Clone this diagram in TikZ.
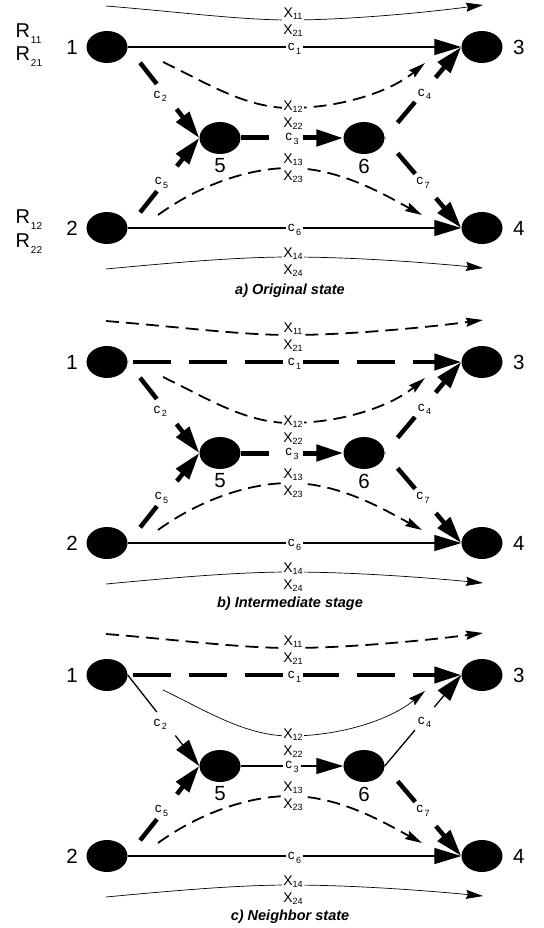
\documentclass[tikz,border=0pt]{standalone}
\usepackage{fontspec}
\setmainfont{Liberation Sans}
\usetikzlibrary{arrows.meta,shapes.geometric}

% label helpers: X_{ij}, c_{k}, R_{ij}
\newcommand\xlab[1]{{\fontsize{14}{16.5}\selectfont X\raisebox{-2pt}{\fontsize{9}{10}\selectfont #1}}}
\newcommand\clab[1]{{\fontsize{13.5}{15}\selectfont c\hspace{1.5pt}\raisebox{-3.5pt}{\fontsize{9}{10}\selectfont #1}}}
\newcommand\rlab[1]{{\fontsize{20}{22}\selectfont R\hspace{1pt}\raisebox{-6pt}{\fontsize{10}{11}\selectfont #1}}}

\tikzset{
  vtx/.style={ellipse, fill=black, minimum width=41pt, minimum height=32pt, inner sep=0pt},
  num/.style={font=\fontsize{20.5}{22}\selectfont, inner sep=0pt},
  xtag/.style={fill=white, align=center, inner sep=1pt, font=\fontsize{14}{16.5}\selectfont},
  ctag/.style={fill=white, inner sep=2pt},
  cfree/.style={inner sep=0pt},
  caption/.style={font=\fontsize{14.5}{16}\selectfont\bfseries\itshape},
  bigtip/.style={-{Triangle[length=27pt,width=16pt]}},
  smalltip/.style={-{Stealth[length=17pt,width=9pt,inset=2pt]}},
  % connector looks
  cthin/.style={bigtip, line width=1.3pt},
  cthindiag/.style={bigtip, line width=1.3pt, dash pattern=on 47pt off 30pt on 200pt},
  cthick/.style={bigtip, line width=4.5pt, dash pattern=on 27pt off 32pt on 100pt off 20pt, dash phase=159pt},
  cbar/.style={bigtip, line width=5pt, dash pattern=on 28pt off 34pt on 200pt},
  clong/.style={bigtip, line width=4.5pt, dash pattern=on 38pt off 18pt, dash phase=51pt},
  xthin/.style={smalltip, line width=0.7pt},
  xdash/.style={smalltip, line width=1.8pt, dash pattern=on 13pt off 7pt},
}

% one network; #1 name prefix, #2 caption text, #3 caption height
\newcommand\drawpanel[3]{%
  \node[vtx] (#1-1) at (107,47) {};
  \node[vtx] (#1-2) at (107,228) {};
  \node[vtx] (#1-3) at (482,47) {};
  \node[vtx] (#1-4) at (482,228) {};
  \node[vtx] (#1-5) at (220,138) {};
  \node[vtx] (#1-6) at (364,138) {};
  \node[num, anchor=east] (#1-n1) at (78,47) {1};
  \node[num, anchor=east] (#1-n2) at (78,228) {2};
  \node[num, anchor=west] (#1-n3) at (513,47) {3};
  \node[num, anchor=west] (#1-n4) at (513,228) {4};
  \node[num] (#1-n5) at (220,166) {5};
  \node[num] (#1-n6) at (364,166) {6};
  % direct links
  \draw[cone] (#1-1.east) -- node[ctag, pos=0.5, yshift=-2pt] (#1-c1) {\clab{1}} (#1-3.west);
  \draw[csix] (#1-2.east) -- node[ctag, pos=0.5, yshift=-2pt] (#1-c6) {\clab{6}} (#1-4.west);
  % links through the hub pair 5 -> 6
  \draw[ctwo] (#1-1.east) -- node[cfree, pos=0.54, xshift=-6pt] (#1-c2) {\clab{2}} (#1-5.west);
  \draw[cfive] (#1-2.east) -- node[cfree, pos=0.5, xshift=-2pt] (#1-c5) {\clab{5}} (#1-5.west);
  \draw[cthree] (#1-5.east) -- node[ctag, pos=0.5, yshift=-1pt] (#1-c3) {\clab{3}} (#1-6.west);
  \draw[cfour] (#1-6.east) -- node[cfree, pos=0.48, xshift=3pt] (#1-c4) {\clab{4}} (#1-3.west);
  \draw[cseven] (#1-6.east) -- node[cfree, pos=0.5, xshift=0pt] (#1-c7) {\clab{7}} (#1-4.west);
  % demand flows
  \coordinate (#1-x1s) at (106,6);   \coordinate (#1-x1m) at (290,20);  \coordinate (#1-x1e) at (483,5);
  \coordinate (#1-x2s) at (163,62);  \coordinate (#1-x2m) at (290,108); \coordinate (#1-x2e) at (425,63);
  \coordinate (#1-x3s) at (158,215); \coordinate (#1-x3m) at (290,168); \coordinate (#1-x3e) at (422,215);
  \coordinate (#1-x4s) at (106,269); \coordinate (#1-x4m) at (290,257); \coordinate (#1-x4e) at (483,268);
  \draw[xone] (#1-x1s) .. controls (180,12) and (240,20) .. (#1-x1m) .. controls (350,20) and (430,12) .. (#1-x1e);
  \draw[xtwo] (#1-x2s) .. controls (205,82) and (245,108) .. (#1-x2m) .. controls (340,108) and (390,92) .. (#1-x2e);
  \draw[xthree] (#1-x3s) .. controls (195,188) and (245,168) .. (#1-x3m) .. controls (340,168) and (385,195) .. (#1-x3e);
  \draw[xfour] (#1-x4s) .. controls (180,262) and (240,257) .. (#1-x4m) .. controls (350,257) and (420,262) .. (#1-x4e);
  \node[xtag] (#1-x1t) at (293,22) {\xlab{11}\\\xlab{21}};
  \node[xtag] (#1-x2t) at (293,115) {\xlab{12}\\\xlab{22}};
  \node[xtag] (#1-x3t) at (293,168) {\xlab{13}\\\xlab{23}};
  \node[xtag] (#1-x4t) at (293,262) {\xlab{14}\\\xlab{24}};
  \node[caption] (#1-cap) at (290,#3) {#2};
}

\begin{document}
\begin{tikzpicture}[x=1pt, y=-1pt]
  \useasboundingbox (0,0) rectangle (543,928);

  \begin{scope}[
      xone/.style=xthin, xtwo/.style=xdash, xthree/.style=xdash, xfour/.style=xthin,
      cone/.style=cthin, ctwo/.style=cthick, cthree/.style=cbar, cfour/.style=cthick,
      cfive/.style=cthick, csix/.style=cthin, cseven/.style=cthick]
    \drawpanel{a}{a) Original state}{291}
    \node[anchor=base west] (ra11) at (12,38) {\rlab{11}};
    \node[anchor=base west] (ra21) at (12,61) {\rlab{21}};
    \node[anchor=base west] (ra12) at (12,223) {\rlab{12}};
    \node[anchor=base west] (ra22) at (12,247) {\rlab{22}};
  \end{scope}

  \begin{scope}[shift={(0,315)},
      xone/.style=xdash, xtwo/.style=xdash, xthree/.style=xdash, xfour/.style=xthin,
      cone/.style=clong, ctwo/.style=cthick, cthree/.style=cbar, cfour/.style=cthick,
      cfive/.style=cthick, csix/.style=cthin, cseven/.style=cthick]
    \drawpanel{b}{b) Intermediate stage}{289}
  \end{scope}

  \begin{scope}[shift={(0,628)},
      xone/.style=xdash, xtwo/.style=xthin, xthree/.style=xdash, xfour/.style=xthin,
      cone/.style=clong, ctwo/.style=cthindiag, cthree/.style=cthin, cfour/.style=cthindiag,
      cfive/.style=cthick, csix/.style=cthin, cseven/.style=cthick]
    \drawpanel{c}{c) Neighbor state}{289}
  \end{scope}
\end{tikzpicture}
\end{document}
